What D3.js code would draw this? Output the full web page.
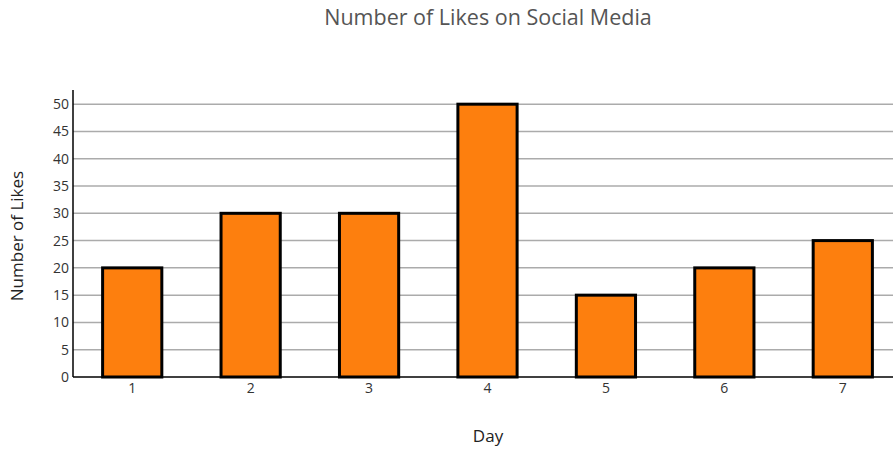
<!DOCTYPE html>
<html lang="en">
<head>
    <title>Likes</title>
    <script src="https://d3js.org/d3.v7.min.js"></script>
    <style>
        body { margin: 0; background: #fff; }
        text { font-family: "Open Sans", sans-serif; }
    </style>
</head>
<body>
<script>
    const days = ["1", "2", "3", "4", "5", "6", "7"];
    const likes = [20, 30, 30, 50, 15, 20, 25];
    const yTicks = [0, 5, 10, 15, 20, 25, 30, 35, 40, 45, 50];

    const W = 893, H = 455;
    const plotLeft = 73, plotRight = 902, plotTop = 90, plotBottom = 377;

    const svg = d3.select("body").append("svg").attr("width", W).attr("height", H);

    const x = d3.scaleBand().domain(days).range([plotLeft, plotRight])
        .paddingInner(0.5).paddingOuter(0.25);
    const y = d3.scaleLinear().domain([0, 52.6]).range([plotBottom, plotTop]);

    // grid
    svg.append("g").selectAll("line")
        .data(yTicks.slice(1)).enter()
        .append("line")
        .attr("x1", plotLeft).attr("x2", W)
        .attr("y1", d => y(d)).attr("y2", d => y(d))
        .attr("stroke", "#ababab").attr("stroke-width", 1.5);

    // bars
    svg.append("g").selectAll("rect")
        .data(likes).enter()
        .append("rect")
        .attr("x", (d, i) => x(days[i]))
        .attr("y", d => y(d))
        .attr("width", x.bandwidth())
        .attr("height", d => plotBottom - y(d))
        .attr("fill", "#fd7f0e")
        .attr("stroke", "#000").attr("stroke-width", 3);

    // axes
    const yAxis = svg.append("g").attr("transform", `translate(${plotLeft},0)`)
        .call(d3.axisLeft(y).tickValues(yTicks).tickSize(0).tickPadding(4));
    yAxis.select(".domain").remove();
    yAxis.selectAll("text").attr("font-size", 14).attr("fill", "#333").attr("font-family", "Open Sans");

    const xAxis = svg.append("g").attr("transform", `translate(0,${plotBottom})`)
        .call(d3.axisBottom(x).tickSize(0).tickPadding(6));
    xAxis.select(".domain").remove();
    xAxis.selectAll("text").attr("font-size", 14).attr("fill", "#333").attr("font-family", "Open Sans");

    svg.append("line").attr("x1", plotLeft).attr("x2", W).attr("y1", plotBottom).attr("y2", plotBottom)
        .attr("stroke", "#000").attr("stroke-width", 1.5);
    svg.append("line").attr("x1", plotLeft).attr("x2", plotLeft).attr("y1", plotTop).attr("y2", plotBottom)
        .attr("stroke", "#000").attr("stroke-width", 1.5);

    // titles
    svg.append("text").attr("x", 488).attr("y", 25).attr("text-anchor", "middle")
        .attr("font-size", 21.5).attr("fill", "#555").text("Number of Likes on Social Media");
    svg.append("text").attr("x", 488).attr("y", 442).attr("text-anchor", "middle")
        .attr("font-size", 17).attr("fill", "#222").text("Day");
    svg.append("text").attr("transform", "translate(23,236) rotate(-90)").attr("text-anchor", "middle")
        .attr("font-size", 17).attr("fill", "#222").text("Number of Likes");
</script>
</body>
</html>
